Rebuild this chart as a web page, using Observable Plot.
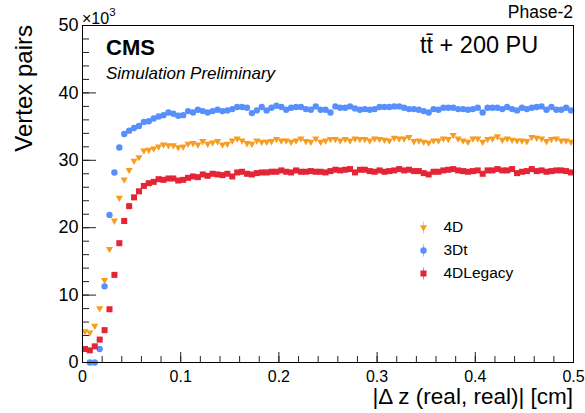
<!DOCTYPE html>
<html><head><meta charset="utf-8">
<script src="https://cdn.jsdelivr.net/npm/d3@7"></script>
<script src="https://cdn.jsdelivr.net/npm/@observablehq/plot@0.6"></script>
<style>
body{margin:0;background:#fff;}
svg{font-family:"Liberation Sans",Arial,Helvetica,sans-serif;}
</style>
</head><body><div id="chart"></div>
<script>
// ---- data ----
const binWidth = 0.005; // cm, 100 bins from 0 to 0.5
const seriesNames = ["4D", "3Dt", "4DLegacy"];
const seriesColors = ["#f89c20", "#5790fc", "#e42536"];

const v4D = [4.6, 4.4, 5.4, 8.0, 12.2, 16.8, 21.0, 24.4, 27.1, 28.5,
  29.9, 30.4, 31.4, 31.5, 31.7, 32.0, 32.3, 32.2, 32.2, 31.9,
  32.0, 32.4, 32.5, 32.3, 32.8, 32.4, 32.6, 32.8, 32.3, 32.4,
  32.9, 33.2, 32.9, 32.5, 32.4, 32.9, 32.7, 32.7, 32.8, 33.1,
  32.9, 32.9, 32.7, 32.9, 33.2, 32.8, 32.7, 33.2, 32.7, 32.9,
  33.1, 33.1, 32.9, 33.1, 32.9, 33.2, 33.1, 33.1, 32.9, 33.2,
  33.1, 33.0, 32.9, 33.3, 33.2, 33.2, 33.4, 32.8, 32.9, 32.7,
  32.6, 32.9, 32.9, 33.2, 33.1, 33.7, 33.2, 32.9, 32.7, 33.2,
  33.2, 32.7, 33.1, 33.2, 33.5, 33.0, 33.2, 33.0, 32.9, 32.9,
  32.8, 33.4, 33.3, 33.2, 32.8, 33.1, 33.2, 32.9, 32.9, 32.7];

const v3Dt = [null, 0, 0, 2.0, 11.3, 21.9, 28.2, 31.9, 33.9, 34.4,
  34.8, 35.1, 35.7, 35.8, 36.2, 36.5, 36.7, 37.1, 36.9, 36.6,
  36.7, 37.3, 37.1, 37.5, 37.3, 37.1, 37.3, 37.5, 37.3, 37.4,
  37.6, 37.9, 37.9, 37.8, 37.0, 37.4, 37.9, 37.4, 37.8, 38.1,
  37.9, 37.5, 37.8, 37.9, 37.9, 37.6, 37.5, 38.0, 37.5, 37.5,
  37.1, 38.0, 37.8, 37.8, 38.0, 37.7, 37.5, 37.6, 37.5, 37.6,
  37.9, 37.9, 37.9, 38.0, 38.0, 37.8, 37.6, 37.6, 37.5, 37.3,
  37.1, 37.6, 37.5, 37.8, 37.8, 37.8, 37.6, 37.6, 37.5, 37.6,
  37.8, 37.1, 37.8, 37.8, 37.8, 37.6, 37.9, 37.6, 37.4, 37.8,
  37.6, 37.8, 37.9, 38.0, 37.5, 37.9, 37.5, 37.5, 37.8, 37.4];

const v4DLegacy = [2.0, 1.8, 2.4, 3.4, 4.8, 7.9, 13.0, 17.7, 21.0, 23.2,
  24.5, 25.4, 26.2, 26.6, 26.8, 27.2, 27.1, 27.3, 27.3, 27.0,
  27.1, 27.4, 27.6, 27.5, 27.9, 27.7, 28.0, 27.9, 27.8, 28.0,
  27.6, 28.2, 28.3, 28.0, 27.9, 28.1, 28.2, 28.2, 28.3, 28.3,
  28.5, 28.3, 28.2, 28.5, 28.3, 28.3, 28.4, 28.3, 28.3, 28.2,
  28.4, 28.6, 28.5, 28.6, 28.7, 28.2, 28.6, 28.6, 28.4, 28.3,
  28.5, 28.3, 28.4, 28.5, 28.7, 28.5, 28.6, 28.4, 28.4, 28.1,
  27.9, 28.3, 28.3, 28.5, 28.6, 28.7, 28.5, 28.4, 28.3, 28.4,
  28.5, 28.0, 28.5, 28.5, 28.7, 28.5, 28.5, 28.7, 28.1, 28.3,
  28.4, 28.7, 28.4, 28.5, 28.3, 28.4, 28.5, 28.5, 28.4, 28.2];

const xTickValues = [0, 0.1, 0.2, 0.3, 0.4, 0.5];
const xTickLabels = ["0", "0.1", "0.2", "0.3", "0.4", "0.5"];
const yTickValues = [0, 10, 20, 30, 40, 50];
const yTickLabels = ["0", "10", "20", "30", "40", "50"];
const xMinorTicks = d3.range(0, 0.5001, 0.02);
const yMinorTicks = d3.range(0, 50.001, 2);

// ---- table for the library ----
const allSeries = [v4D, v3Dt, v4DLegacy];
const rows = [];
allSeries.forEach((arr, s) => arr.forEach((v, i) => {
  if (v != null) rows.push({series: seriesNames[s], x: (i + 0.5) * binWidth, y: v});
}));

// ---- layout ----
const W = 585, H = 413, mL = 82, mR = 12, mT = 25, mB = 51;
const plotW = W - mL - mR, plotH = H - mT - mB;

const triangleDown = {
  draw(ctx, size) {
    const r = Math.sqrt(size / Math.PI);
    ctx.moveTo(-r, -0.65 * r);
    ctx.lineTo(r, -0.65 * r);
    ctx.lineTo(0, 1.1 * r);
    ctx.closePath();
  }
};
const vbar = {
  draw(ctx, size) {
    const r = Math.sqrt(size / Math.PI);
    ctx.moveTo(0, -r);
    ctx.lineTo(0, r);
  }
};
const symbols = [triangleDown, "circle", "square"];
const radii = [3.6, 3.2, 3.4];

const dataMarks = seriesNames.map((s, k) =>
  Plot.dot(rows.filter(d => d.series === s), {
    x: "x", y: "y", symbol: symbols[k], r: radii[k], fill: seriesColors[k], stroke: null
  })
);

const legendMarks = [];
seriesNames.forEach((s, k) => {
  const dy = 202 + 23 * k;
  legendMarks.push(
    Plot.dot([s], {x: null, y: null, frameAnchor: "top-left", dx: 341, dy, symbol: vbar, r: 6,
      fill: "none", stroke: seriesColors[k], strokeOpacity: 0.6, strokeWidth: 1}),
    Plot.dot([s], {x: null, y: null, frameAnchor: "top-left", dx: 341, dy, symbol: symbols[k], r: radii[k],
      fill: seriesColors[k], stroke: null}),
    Plot.text([s], {x: null, y: null, frameAnchor: "top-left", dx: 361, dy, text: d => d,
      textAnchor: "start", lineAnchor: "middle", fontSize: 15.5, fill: "black"})
  );
});

const chart = Plot.plot({
  width: W, height: H,
  marginLeft: mL, marginRight: mR, marginTop: mT, marginBottom: mB,
  style: {fontFamily: '"Liberation Sans", Arial, sans-serif', background: "white", color: "black"},
  x: {domain: [0, 0.5]},
  y: {domain: [0, 50]},
  marks: [
    Plot.axisX({ticks: xTickValues, tickFormat: (d) => xTickLabels[xTickValues.indexOf(d)],
      tickSize: 0, tickPadding: 8, fontSize: 16, label: null}),
    Plot.axisY({ticks: yTickValues, tickFormat: (d) => yTickLabels[yTickValues.indexOf(d)],
      tickSize: 0, tickPadding: 4, fontSize: 18, label: null}),
    Plot.tickY(yTickValues, {y: d => d, insetRight: plotW - 14, stroke: "#222"}),
    Plot.tickY(yMinorTicks, {y: d => d, insetRight: plotW - 7, stroke: "#222"}),
    Plot.tickX(xTickValues, {x: d => d, insetTop: plotH - 10, stroke: "#222"}),
    Plot.tickX(xMinorTicks, {x: d => d, insetTop: plotH - 6, stroke: "#222"}),
    ...dataMarks,
    ...legendMarks,
    Plot.frame({stroke: "black", strokeWidth: 1})
  ]
});
document.getElementById("chart").appendChild(chart);

// ---- annotations ----
const svg = d3.select(chart);
const font = '"Liberation Sans", Arial, sans-serif';
function addText(x, y, str, opts = {}) {
  const t = svg.append("text").attr("x", x).attr("y", y).text(str)
    .attr("font-family", font).attr("font-size", opts.size || 16).attr("fill", "black")
    .attr("text-anchor", opts.anchor || "start");
  if (opts.weight) t.attr("font-weight", opts.weight);
  if (opts.style) t.attr("font-style", opts.style);
  if (opts.rotate) t.attr("transform", `rotate(${opts.rotate},${x},${y})`);
  return t;
}
addText(106, 55, "CMS", {size: 22, weight: "bold"});
addText(106, 79, "Simulation Preliminary", {size: 17, style: "italic"});
addText(420, 53, "tt\u0304 + 200 PU", {size: 23.5});
addText(573, 18, "Phase-2", {size: 17.5, anchor: "end"});
const sci = addText(82, 24, "\u00d710", {size: 16});
sci.append("tspan").attr("dy", -8).attr("font-size", 11.5).text("3");
addText(573, 404, "|\u0394 z (real, real)| [cm]", {size: 22.5, anchor: "end"});
addText(32, 25, "Vertex pairs", {size: 24, anchor: "end", rotate: -90});
</script>
</body></html>
